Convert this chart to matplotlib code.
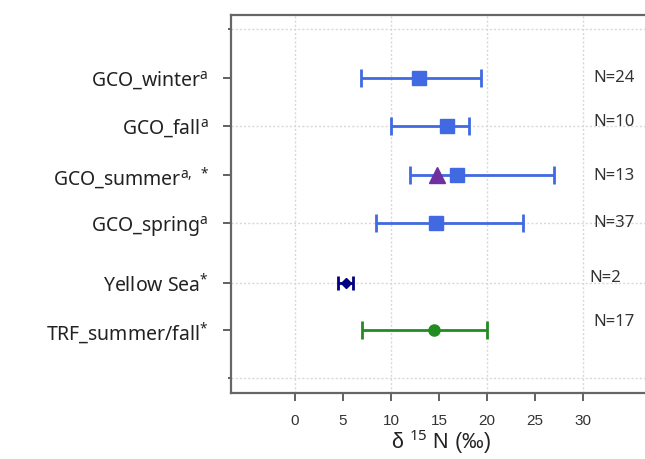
import matplotlib

matplotlib.use("Agg")
import matplotlib.pyplot as plt

plt.rcParams["mathtext.fontset"] = "custom"
plt.rcParams["mathtext.rm"] = "Noto Sans"
plt.rcParams["mathtext.it"] = "Noto Sans:italic"

# rows, top to bottom
labels = [
    r"GCO_winter$^{\mathrm{a}}$",
    r"GCO_fall$^{\mathrm{a}}$",
    r"GCO_summer$^{\mathrm{a,\ *}}$",
    r"GCO_spring$^{\mathrm{a}}$",
    r"Yellow Sea$^{\mathrm{*}}$",
    r"TRF_summer/fall$^{\mathrm{*}}$",
]
means = [12.9, 15.8, 16.9, 14.7, 5.3, 14.5]
lows = [6.9, 10.0, 12.0, 8.4, 4.5, 7.0]
highs = [19.4, 18.1, 26.9, 23.7, 6.1, 20.0]
counts = [24, 10, 13, 37, 2, 17]
summer_extra = 14.8  # triangle on the GCO_summer row

colors = ["#4169E1", "#4169E1", "#4169E1", "#4169E1", "#000080", "#228B22"]
markers = ["s", "s", "s", "s", "D", "o"]
msizes = [9.5, 9.5, 9.5, 9.5, 5, 8]
caps = [6.8, 6.8, 6.8, 6.8, 5, 6.8]

ypos = [6.5, 5.5, 4.5, 3.5, 2.27, 1.3]
n_dy = [0.0, 0.08, -0.02, 0.0, 0.1, 0.16]
grid_y = [7.5, 5.5, 3.5, 2.27, 0.3]
xticks = [0, 5, 10, 15, 20, 25, 30]

fig = plt.figure(figsize=(6.45, 4.59), dpi=100)
ax = fig.add_axes([231 / 645, 66 / 459, 419 / 645, 378 / 459])
ax.set_xlim(-6.62, 36.93)
ax.set_ylim(0, 7.794)

for gx in [0, 10, 20, 30]:
    ax.axvline(gx, color="#d8d8d8", lw=1, ls=(0, (1.5, 1.5)), zorder=0)
for gy in grid_y:
    ax.axhline(gy, color="#d8d8d8", lw=1, ls=(0, (1.5, 1.5)), zorder=0)

for i in range(len(labels)):
    m, lo, hi = means[i], lows[i], highs[i]
    ax.errorbar(m, ypos[i], xerr=[[m - lo], [hi - m]], fmt=markers[i],
                color=colors[i], ms=msizes[i], elinewidth=2,
                capsize=caps[i], capthick=2, zorder=3)
    ax.text(31.0 if counts[i] != 2 else 30.6, ypos[i] + n_dy[i],
            f"N={counts[i]}", fontsize=12, family="Noto Sans",
            color="#333333", va="center", ha="left")

ax.plot(summer_extra, ypos[2], marker="^", color="#7030A0", ms=12,
        ls="none", zorder=4)

ax.set_yticks(ypos)
ax.set_yticklabels(labels, fontsize=14, family="Noto Sans", color="#222222")
ax.set_yticks([7.5, 0.3], minor=True)
ax.tick_params(axis="y", which="major", length=6, width=1.3,
               color="#555555", pad=10)
ax.tick_params(axis="y", which="minor", length=2, width=1.3,
               color="#555555")
ax.set_xticks(xticks)
ax.set_xticklabels([str(t) for t in xticks], fontsize=11,
                   family="Liberation Sans", color="#333333")
ax.tick_params(axis="x", length=6, width=1.3, color="#555555", pad=9)

for sp in ax.spines.values():
    sp.set_color("#666666")
    sp.set_linewidth(1.6)

ax.set_xlabel(r"δ $^{15}$ N (‰)", fontsize=15.5, family="Liberation Sans",
              color="#222222", labelpad=0)

fig.savefig("out.png", dpi=100)
